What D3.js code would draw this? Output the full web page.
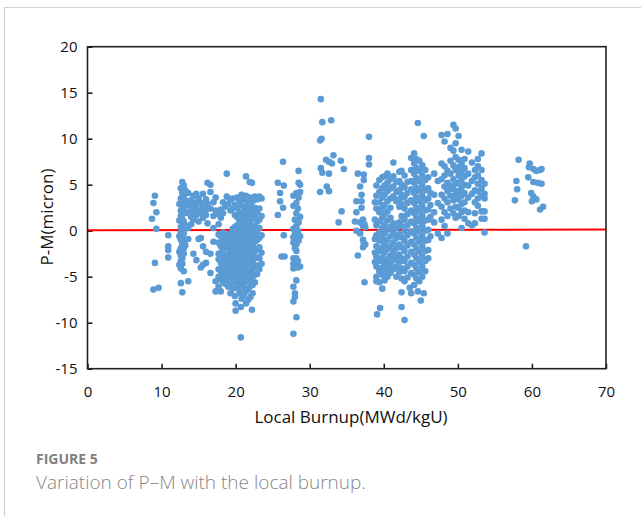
<!DOCTYPE html>
<html>
<head>
<meta charset="utf-8">
<script src="https://cdn.jsdelivr.net/npm/d3@7"></script>
<style>
  body { margin: 0; background: #fff; }
  svg { display: block; font-family: "Open Sans", sans-serif; }
</style>
</head>
<body>
<script>
// P-M readings grouped as [local burnup, [P-M values at that burnup]]
var lowBurnup = [
  [8.7, [1.3]], [8.9, [3.0, -6.4]], [9.1, [3.8, -3.5]], [9.3, [2.0, 0.2]], [9.6, [-6.2]],
  [10.9, [-0.5, -1.7, -2.1, -2.9]],
  [12.4, [2.9, 1.1, -0.6, -2.3, -3.7]],
  [12.6, [4.6, 3.5, 2.2, 1.6, 0.4, -0.2, -1.0, -1.9, -2.7, -3.3, -4.1, -5.7]],
  [12.8, [5.3, 4.1, 3.0, 2.5, 1.3, 0.8, 0.0, -0.7, -1.4, -2.2, -3.0, -3.6, -6.7]],
  [13.0, [4.9, 3.8, 2.7, 1.9, 1.0, -0.3, -1.2, -1.9, -2.5, -4.4]],
  [13.2, [4.4, 3.3, 2.1, 0.6, -1.6]],
  [13.6, [4.1, 2.8, 1.9, 0.3, -0.9, -5.5]],
  [14.0, [3.3, 2.4, 1.5, 0.7]],
  [14.3, [3.8, 2.9, 2.1, 1.2, -2.5]],
  [14.7, [4.0, 3.1, 2.5, 1.7, -3.2]],
  [15.0, [3.5, 2.2, 1.0, -0.9]],
  [15.3, [3.0, 1.9, -0.8, -4.0]],
  [15.6, [4.0, 2.6, 1.4, -1.7, -3.7]],
  [16.0, [3.4, 2.3, 1.7, -2.3, -3.5]],
  [16.2, [5.2, 2.9, 0.8]],
  [16.6, [5.0, 4.2, 2.4, -2.5, -4.6]],
  [17.0, [3.1, 1.6, 0.3, -1.2]],
  [17.3, [3.6, 2.2, -5.5, -6.6]]
];

var midBurnup = [
  [17.7, [1.8, 0.7, -0.4, -1.3, -2.5, -3.1, -4.2, -5.0, -6.1]],
  [18.0, [2.3, 1.4, -0.6, -1.7, -2.4, -3.5, -4.4, -5.3, -6.6]],
  [18.3, [3.1, 1.9, -0.2, -1.1, -2.0, -2.9, -3.8, -4.7, -5.6]],
  [18.6, [2.6, -0.5, -1.5, -2.6, -3.3, -4.1, -5.0, -5.8]],
  [18.8, [6.2, 3.7]],
  [19.0, [2.9, -0.4, -0.9, -1.9, -2.7, -3.7, -4.6, -5.3, -6.1]],
  [19.3, [3.3, 2.2, -0.3, -1.4, -2.3, -3.2, -4.0, -4.9, -5.7, -6.8]],
  [19.6, [3.5, 2.4, 0.2, -0.7, -1.7, -2.6, -3.5, -4.4, -5.2, -6.3]],
  [19.9, [2.8, 1.7, 0.4, -0.4, -1.2, -2.1, -3.0, -3.9, -4.8, -5.6, -7.1]],
  [20.0, [-7.9, -8.7]],
  [20.2, [3.6, 2.5, 1.5, 0.6, -0.2, -1.0, -1.9, -2.8, -3.6, -4.5, -5.4, -6.2]],
  [20.5, [3.2, 2.0, 1.1, 0.2, -0.6, -1.5, -2.4, -3.2, -4.1, -5.0, -5.9, -6.8]],
  [20.7, [-8.3, -11.6]],
  [20.8, [3.9, 2.8, 1.7, 0.8, -0.1, -0.9, -1.8, -2.7, -3.6, -4.4, -5.3, -6.5, -7.4]],
  [21.1, [3.4, 2.3, 1.3, 0.3, -0.5, -1.4, -2.2, -3.1, -4.0, -4.8, -5.7, -6.2, -7.0]],
  [21.4, [5.9, 3.8, 2.6, 1.8, 0.9, 0.0, -0.8, -1.7, -2.6, -3.4, -4.3, -5.2, -6.6, -7.9]],
  [21.7, [3.1, 2.1, 1.2, 0.4, -0.4, -1.3, -2.1, -3.0, -3.8, -4.7, -5.5, -6.3, -7.5]],
  [21.9, [5.3]],
  [22.0, [3.6, 2.7, 1.6, 0.7, -0.2, -1.0, -1.9, -2.8, -3.7, -4.5, -5.4, -6.0, -7.2]],
  [22.2, [5.2, -8.6]],
  [22.3, [3.2, 2.2, 1.3, 0.1, -0.7, -1.6, -2.5, -3.3, -4.2, -5.0, -5.9, -6.8]],
  [22.6, [3.7, 2.5, 1.5, 0.5, -0.4, -1.2, -2.2, -3.0, -3.9, -4.8, -5.6]],
  [22.9, [3.4, 2.0, 1.0, -0.1, -1.0, -2.0, -2.9, -3.8, -4.7]],
  [23.2, [3.7, 2.4, 1.2, 0.3, -0.8, -1.8, -3.0, -4.2]],
  [23.5, [3.5, 1.6, -0.5, -2.4, -3.6]],
  [25.7, [5.2, 1.7]], [26.0, [4.1, 3.2]], [26.2, [-2.8]], [26.4, [7.5, 2.5]],
  [26.5, [4.9, -0.5]], [26.6, [-2.8]],
  [27.8, [3.8, 2.7, 0.2, -0.7, -1.3, -3.0, -3.6, -4.1, -6.1, -7.7, -11.2]],
  [28.0, [1.2, -0.1, -0.5, -1.0, -1.9, -6.8, -7.2]],
  [28.2, [4.1, 3.0, 1.9, 0.5, -0.4, -0.9, -1.5, -2.2, -3.0, -3.6, -5.4, -9.4]],
  [28.4, [2.4, 0.0, -0.3, -0.8, -3.3, -4.0]],
  [28.5, [6.5, 5.2, 3.6, 0.9, -1.1]],
  [28.7, [5.0, 4.2, 1.5, -0.6, -3.9]],
  [31.4, [9.8, 4.2]], [31.5, [14.3, 6.8]], [31.6, [10.0]], [31.7, [11.8, 6.3]],
  [32.2, [7.7]], [32.3, [4.8]], [32.6, [7.5, 6.2, 4.3]], [32.9, [12.0]],
  [33.0, [7.3]], [33.2, [8.2]], [33.9, [0.9]], [34.2, [7.6]], [34.3, [2.1]], [34.6, [6.7]],
  [36.1, [1.0]], [36.3, [3.2, 2.0, 0.0]], [36.5, [6.2, -2.7]], [36.8, [4.8, 0.9, -0.3]],
  [37.0, [3.9, 3.2, 2.5]], [37.2, [1.2, 0.5, -1.0, -1.8]], [37.3, [6.1, 5.5, -1.4]],
  [37.4, [0.7, -5.6]], [37.5, [0.4, -1.5]], [38.0, [10.2, 7.9, 7.2]]
];

var highBurnup = [
  [38.8, [3.1, 1.2, -0.9, -2.4, -3.4]],
  [39.0, [4.9, 3.8, 2.4, 0.6, -0.5, -1.7, -2.8, -3.9, -5.0, -5.5]],
  [39.1, [-9.1]],
  [39.4, [5.5, 4.2, 3.1, 2.0, 1.0, -0.2, -1.1, -2.2, -3.3, -4.4, -5.6]],
  [39.5, [-8.4]],
  [39.8, [5.8, 4.6, 3.6, 2.5, 1.4, 0.3, -0.8, -1.8, -2.9, -4.0, -4.8, -6.3]],
  [40.1, [5.9, 4.9, 3.9, 2.8, 1.8, 0.7, -0.3, -1.4, -2.4, -3.5, -4.5, -5.4]],
  [40.5, [6.2, 5.2, 4.3, 3.2, 2.1, 1.1, 0.1, -1.0, -2.0, -3.1, -4.1, -5.0]],
  [40.9, [5.6, 4.6, 3.5, 2.5, 1.4, 0.4, -0.6, -1.7, -2.7, -3.6, -4.6]],
  [41.3, [7.4, 5.9, 4.8, 3.7, 0.8, -0.2, -1.3, -2.3, -3.2, -4.2]],
  [41.7, [5.3, 4.2, 3.2, 0.3, -0.8, -1.9, -2.9, -3.9, -5.0]],
  [42.1, [6.4, 5.4, 4.4, 3.4, 2.6, 0.9, -0.4, -1.5, -2.6, -3.4, -4.5]],
  [42.4, [6.5, 5.0, 3.9, 2.9, 1.6, 0.5, -0.7, -1.8, -3.0, -4.1, -5.2, -6.7, -8.3]],
  [42.8, [6.0, 4.7, 3.6, 2.4, 1.2, 0.0, -1.1, -2.2, -3.3, -4.4, -5.5, -9.7]],
  [43.2, [5.3, 4.1, 3.0, 1.8, 0.6, -0.5, -1.6, -2.8, -3.9, -5.1]],
  [43.5, [-6.2]],
  [43.7, [7.9, 6.6, 5.4, 4.5, 3.3, 2.2, 1.0, -0.1, -1.2, -2.3, -3.5, -4.6, -6.8]],
  [44.1, [8.4, 7.3, 6.2, 5.2, 4.1, 3.0, 1.9, 0.8, -0.3, -1.5, -2.6, -3.7, -4.8, -5.9]],
  [44.4, [7.8, 6.8, 5.7, 4.7, 3.6, 2.5, 1.4, 0.3, -0.8, -1.9, -3.0, -4.1, -5.2]],
  [44.6, [11.7, -6.6]],
  [44.8, [7.6, 6.5, 5.4, 4.3, 3.2, 2.1, 1.0, -0.1, -1.2, -2.3, -3.4, -4.5, -5.5]],
  [45.0, [-7.6]],
  [45.2, [7.1, 6.0, 4.9, 3.8, 2.7, 1.6, 0.5, -0.6, -1.7, -2.8, -3.9, -5.0]],
  [45.4, [10.3, -6.8]],
  [45.6, [6.6, 5.5, 4.4, 3.3, 2.2, 1.1, 0.0, -1.1, -2.2, -3.3, -4.4]],
  [46.0, [5.8, 4.6, 3.5, 2.3, 1.2, 0.1, -1.0, -2.1, -3.0]],
  [46.3, [4.1, 2.8, 1.5, -0.6]],
  [46.8, [6.2, 3.9, 2.0, 0.9]],
  [47.3, [5.4, 3.0, -0.3]],
  [47.8, [10.4, 7.3, 5.6, 3.9, 2.6, 1.2, -0.8]],
  [48.2, [9.7, 7.0, 6.0, 4.8, 3.5, 2.0, 0.5]],
  [48.6, [10.5, 6.5, 5.2, 4.3, 3.1, 1.6, -0.3]],
  [49.0, [9.0, 7.6, 6.2, 4.9, 3.8, 2.4]],
  [49.4, [11.5, 8.7, 7.1, 5.6, 4.5, 3.3, 1.9]],
  [49.7, [11.1, 9.5, 8.0, 6.6, 5.1, 3.9, 2.6, 1.4]],
  [50.1, [10.3, 7.7, 6.9, 6.0, 5.2, 4.3, 3.4, 2.5, 1.6]],
  [50.5, [8.8, 7.3, 6.4, 5.6, 4.7, 3.8, 2.9, 2.0, 0.3]],
  [50.9, [7.8, 6.8, 5.9, 5.0, 4.1, 3.1, 2.2, 1.3]],
  [51.4, [8.6, 6.2, 4.9, 3.6, 2.0, 0.8]],
  [51.9, [7.4, 5.4, 4.0, 0.6]],
  [52.3, [6.6, 5.8, 4.4, 3.1, 1.9, 0.8]],
  [52.7, [7.8, 7.0, 6.0, 5.1, 4.3, 3.5, 2.7]],
  [53.2, [8.4, 6.6, 5.5, 4.6, 3.8, 2.1, 1.3]],
  [53.6, [5.1, 4.0, 3.5, 2.1, 1.3, -0.2]],
  [57.7, [3.3]], [57.9, [5.4]], [58.0, [4.5]], [58.2, [7.7]], [59.2, [-1.7]],
  [59.5, [5.8]], [59.6, [6.9]], [59.7, [7.3]], [59.9, [4.1]], [60.0, [3.2]],
  [60.2, [6.7, 5.3, 3.7]], [60.6, [6.5, 3.4]], [60.8, [5.2]], [61.1, [6.6, 2.3]],
  [61.3, [6.7, 5.1]], [61.5, [2.6]]
];

// linear fit drawn in red
var fitBurnup = [0, 70];
var fitPM = [0.05, 0.12];

var xTicks = [0, 10, 20, 30, 40, 50, 60, 70];
var yTicks = [-15, -10, -5, 0, 5, 10, 15, 20];

var points = [];
lowBurnup.concat(midBurnup, highBurnup).forEach(function(col) {
  col[1].forEach(function(v) { points.push({bu: col[0], pm: v}); });
});

var svg = d3.select("body").append("svg")
  .attr("width", 641)
  .attr("height", 516);

// card outline
svg.append("path")
  .attr("d", "M4.5,516V7.5H641")
  .attr("fill", "none")
  .attr("stroke", "#d2d2d2")
  .attr("stroke-width", 1.2);

var x = d3.scaleLinear().domain([0, 70]).range([87.5, 606]);
var y = d3.scaleLinear().domain([-15, 20]).range([368.7, 46.7]);

// plain hyphen for negatives, like the original
var fmt = function(d) { return String(d); };

svg.append("g")
  .attr("class", "x axis")
  .attr("transform", "translate(0," + y(-15) + ")")
  .call(d3.axisBottom(x).tickValues(xTicks).tickFormat(fmt).tickSize(-5).tickSizeOuter(0).tickPadding(18))
  .call(function(g) { g.select(".domain").remove(); });

svg.append("g")
  .attr("class", "y axis")
  .attr("transform", "translate(" + x(0) + ",0)")
  .call(d3.axisLeft(y).tickValues(yTicks).tickFormat(fmt).tickSize(-5).tickSizeOuter(0).tickPadding(10))
  .call(function(g) { g.select(".domain").remove(); });

svg.selectAll(".axis text")
  .attr("font-family", "'Open Sans', sans-serif")
  .attr("font-size", 15)
  .attr("fill", "#111");
svg.selectAll(".axis line")
  .attr("stroke", "#222")
  .attr("stroke-width", 1.6);

// trend line sits under the dots
svg.append("line")
  .attr("x1", x(fitBurnup[0])).attr("y1", y(fitPM[0]))
  .attr("x2", x(fitBurnup[1])).attr("y2", y(fitPM[1]))
  .attr("stroke", "#ff0000")
  .attr("stroke-width", 2);

svg.append("g")
  .selectAll("circle")
  .data(points)
  .enter().append("circle")
  .attr("cx", function(d) { return x(d.bu); })
  .attr("cy", function(d) { return y(d.pm); })
  .attr("r", 3.3)
  .attr("fill", "#5b9bd5");

// plot frame
svg.append("rect")
  .attr("x", x(0)).attr("y", y(20))
  .attr("width", x(70) - x(0))
  .attr("height", y(-15) - y(20))
  .attr("fill", "none")
  .attr("stroke", "#222")
  .attr("stroke-width", 1.6);

svg.append("text")
  .attr("x", 351)
  .attr("y", 422.5)
  .attr("text-anchor", "middle")
  .attr("font-size", 17)
  .attr("fill", "#111")
  .text("Local Burnup(MWd/kgU)");

svg.append("text")
  .attr("transform", "translate(53,217) rotate(-90)")
  .attr("text-anchor", "middle")
  .attr("font-size", 17)
  .attr("fill", "#111")
  .text("P-M(micron)");

svg.append("text")
  .attr("x", 36)
  .attr("y", 463.5)
  .attr("font-size", 14)
  .attr("font-weight", "bold")
  .attr("fill", "#7f7f7f")
  .text("FIGURE 5");

svg.append("text")
  .attr("x", 36)
  .attr("y", 488.5)
  .attr("font-size", 19)
  .attr("font-weight", 300)
  .attr("fill", "#868686")
  .text("Variation of P\u2013M with the local burnup.");
</script>
</body>
</html>
